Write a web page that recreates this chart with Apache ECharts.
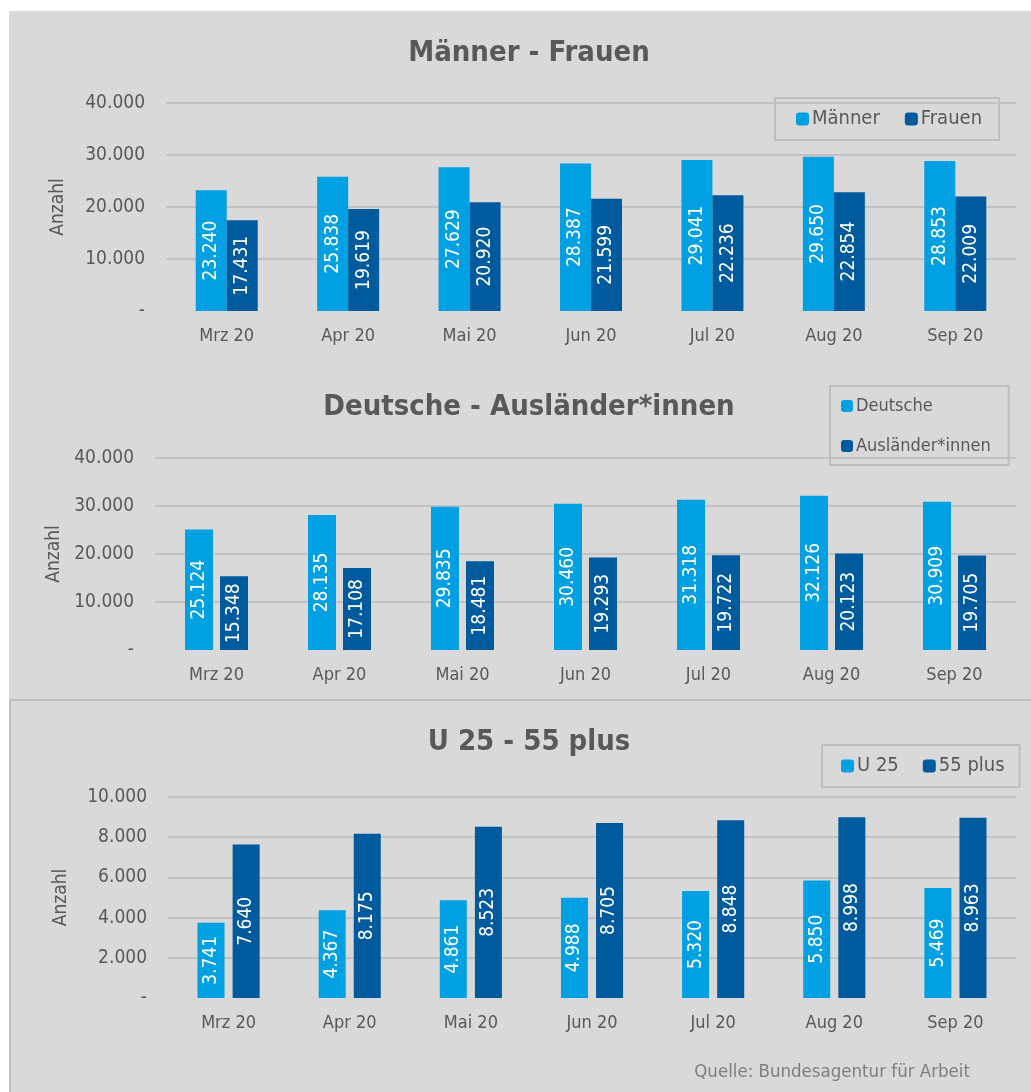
<!DOCTYPE html>
<html>
<head>
<meta charset="utf-8">
<script src="https://cdn.jsdelivr.net/npm/echarts@6/dist/echarts.min.js"></script>
<style>
  html, body { margin: 0; padding: 0; background: #fff; }
  #chart { width: 1031px; height: 1092px; }
</style>
</head>
<body>
<div id="chart"></div>
<script>
const months = ["Mrz 20", "Apr 20", "Mai 20", "Jun 20", "Jul 20", "Aug 20", "Sep 20"];

const maenner = [23240, 25838, 27629, 28387, 29041, 29650, 28853];
const frauen = [17431, 19619, 20920, 21599, 22236, 22854, 22009];

const deutsche = [25124, 28135, 29835, 30460, 31318, 32126, 30909];
const auslaender = [15348, 17108, 18481, 19293, 19722, 20123, 19705];

const u25 = [3741, 4367, 4861, 4988, 5320, 5850, 5469];
const plus55 = [7640, 8175, 8523, 8705, 8848, 8998, 8963];

const LIGHT = "#00a0e3";
const DARK = "#005a9e";
const TXT = "#595959";
const FONT = "'Liberation Sans Narrow', 'DejaVu Sans Condensed', sans-serif";

// 12345 -> "12.345", 0 -> "-"
const fmt = v => v === 0 ? "-" : String(v).replace(/\B(?=(\d{3})+(?!\d))/g, ".");

const chart = echarts.init(document.getElementById("chart"), null, { renderer: "canvas" });

const panels = [
  { title: "Männer - Frauen", left: 166, top: 103, height: 208, max: 40000, interval: 10000, titleTop: 34,
    nameGap: 98, names: ["Männer", "Frauen"], data: [maenner, frauen], barW: 31, gap: "0%" },
  { title: "Deutsche - Ausländer*innen", left: 155, top: 458, height: 192, max: 40000, interval: 10000, titleTop: 388,
    nameGap: 87, names: ["Deutsche", "Ausländer*innen"], data: [deutsche, auslaender], barW: 28, gap: "25%" },
  { title: "U 25 - 55 plus", left: 168, top: 797, height: 201, max: 10000, interval: 2000, titleTop: 723,
    nameGap: 97, names: ["U 25", "55 plus"], data: [u25, plus55], barW: 27, gap: "30%" }
];

const gridLine = ["rgba(0,0,0,0)", "#c2c2c2", "#c2c2c2", "#c2c2c2", "#c2c2c2", "#c2c2c2"];

const option = {
  animation: false,
  textStyle: { fontFamily: FONT },
  title: panels.map(p => ({
    text: p.title, left: 524, textAlign: "center", top: p.titleTop,
    textStyle: { fontFamily: FONT, fontSize: 29, fontWeight: "bold", color: TXT }
  })),
  legend: [
    { data: panels[0].names, left: 775, top: 98, orient: "horizontal",
      padding: [11, 17, 11, 21], itemGap: 25, itemWidth: 13, itemHeight: 13,
      borderColor: "#bfbfbf", borderWidth: 2,
      textStyle: { fontFamily: FONT, fontSize: 20, color: TXT, padding: [0, 0, 0, -2] } },
    { data: panels[1].names, left: 830, top: 386, orient: "vertical",
      padding: [11, 18, 10, 11], itemGap: 22, itemWidth: 12, itemHeight: 12,
      borderColor: "#bfbfbf", borderWidth: 2,
      textStyle: { fontFamily: FONT, fontSize: 18, color: TXT, padding: [0, 0, 0, -2] } },
    { data: panels[2].names, left: 822, top: 745, orient: "horizontal",
      padding: [11, 15, 11, 19], itemGap: 24, itemWidth: 13, itemHeight: 13,
      borderColor: "#bfbfbf", borderWidth: 2,
      textStyle: { fontFamily: FONT, fontSize: 20, color: TXT, padding: [0, 0, 0, -2] } }
  ],
  grid: panels.map(p => ({ left: p.left, right: 15, top: p.top, height: p.height })),
  xAxis: panels.map((p, i) => ({
    type: "category", gridIndex: i, data: months,
    axisLine: { show: false }, axisTick: { show: false },
    axisLabel: { margin: 16, fontSize: 18, color: TXT, fontFamily: FONT }
  })),
  yAxis: panels.map((p, i) => ({
    type: "value", gridIndex: i, min: 0, max: p.max, interval: p.interval,
    name: "Anzahl", nameLocation: "middle", nameGap: p.nameGap, nameRotate: 90,
    nameTextStyle: { fontSize: 19, color: TXT, fontFamily: FONT },
    axisLine: { show: false }, axisTick: { show: false },
    axisLabel: { margin: 21, fontSize: 19, color: TXT, fontFamily: FONT, formatter: fmt },
    splitLine: { lineStyle: { color: gridLine, width: 2 } }
  })),
  series: panels.flatMap((p, i) => p.data.map((vals, k) => ({
    type: "bar", name: p.names[k], xAxisIndex: i, yAxisIndex: i,
    data: vals, barWidth: p.barW, barGap: p.gap,
    itemStyle: { color: k === 0 ? LIGHT : DARK },
    label: {
      show: true, position: "inside", rotate: 90, color: "#fff",
      fontSize: 19, fontFamily: FONT, formatter: d => fmt(d.value)
    }
  }))),
  graphic: [
    { type: "rect", z: -10, silent: true, shape: { x: 9, y: 11, width: 1030, height: 1090 },
      style: { fill: "#d9d9d9" } },
    { type: "rect", z: -9, silent: true, shape: { x: 10, y: 700, width: 1030, height: 400 },
      style: { fill: "#d9d9d9", stroke: "#bfbfbf", lineWidth: 2 } },
    { type: "text", right: 61, top: 1063, silent: true,
      style: { text: "Quelle: Bundesagentur für Arbeit", fill: "#7f7f7f", fontSize: 18.5, fontFamily: FONT } }
  ]
};

chart.setOption(option);
</script>
</body>
</html>
